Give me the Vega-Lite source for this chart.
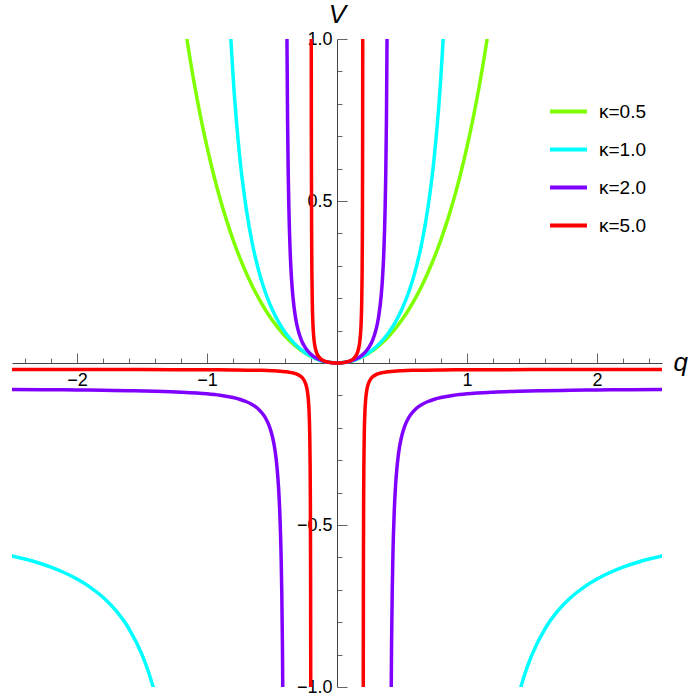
{
  "$schema": "https://vega.github.io/schema/vega-lite/v6.json",
  "width": 650,
  "height": 648,
  "autosize": "none",
  "padding": {"left": 12, "top": 39, "right": 26, "bottom": 11},
  "background": "white",
  "config": {"view": {"stroke": null}, "font": "Liberation Sans"},
  "data": {"values": [
    {"k":"κ=0.5","b":"u","q":-1.2,"V":1.125},{"k":"κ=0.5","b":"u","q":-1.15,"V":0.9879},{"k":"κ=0.5","b":"u","q":-1.1,"V":0.8674},{"k":"κ=0.5","b":"u","q":-1.05,"V":0.761},{"k":"κ=0.5","b":"u","q":-1,"V":0.6667},{"k":"κ=0.5","b":"u","q":-0.95,"V":0.5827},{"k":"κ=0.5","b":"u","q":-0.9,"V":0.5078},{"k":"κ=0.5","b":"u","q":-0.85,"V":0.4409},{"k":"κ=0.5","b":"u","q":-0.8,"V":0.381},{"k":"κ=0.5","b":"u","q":-0.75,"V":0.3273},{"k":"κ=0.5","b":"u","q":-0.7,"V":0.2792},{"k":"κ=0.5","b":"u","q":-0.65,"V":0.2362},{"k":"κ=0.5","b":"u","q":-0.6,"V":0.1978},{"k":"κ=0.5","b":"u","q":-0.55,"V":0.1636},{"k":"κ=0.5","b":"u","q":-0.5,"V":0.1333},{"k":"κ=0.5","b":"u","q":-0.45,"V":0.1066},{"k":"κ=0.5","b":"u","q":-0.4,"V":0.0833},{"k":"κ=0.5","b":"u","q":-0.35,"V":0.0632},{"k":"κ=0.5","b":"u","q":-0.3,"V":0.046},{"k":"κ=0.5","b":"u","q":-0.25,"V":0.0317},{"k":"κ=0.5","b":"u","q":-0.2,"V":0.0202},{"k":"κ=0.5","b":"u","q":-0.15,"V":0.0113},{"k":"κ=0.5","b":"u","q":-0.1,"V":0.005},{"k":"κ=0.5","b":"u","q":-0.05,"V":0.0013},{"k":"κ=0.5","b":"u","q":0,"V":0},
    {"k":"κ=0.5","b":"u","q":0.05,"V":0.0013},{"k":"κ=0.5","b":"u","q":0.1,"V":0.005},{"k":"κ=0.5","b":"u","q":0.15,"V":0.0113},{"k":"κ=0.5","b":"u","q":0.2,"V":0.0202},{"k":"κ=0.5","b":"u","q":0.25,"V":0.0317},{"k":"κ=0.5","b":"u","q":0.3,"V":0.046},{"k":"κ=0.5","b":"u","q":0.35,"V":0.0632},{"k":"κ=0.5","b":"u","q":0.4,"V":0.0833},{"k":"κ=0.5","b":"u","q":0.45,"V":0.1066},{"k":"κ=0.5","b":"u","q":0.5,"V":0.1333},{"k":"κ=0.5","b":"u","q":0.55,"V":0.1636},{"k":"κ=0.5","b":"u","q":0.6,"V":0.1978},{"k":"κ=0.5","b":"u","q":0.65,"V":0.2362},{"k":"κ=0.5","b":"u","q":0.7,"V":0.2792},{"k":"κ=0.5","b":"u","q":0.75,"V":0.3273},{"k":"κ=0.5","b":"u","q":0.8,"V":0.381},{"k":"κ=0.5","b":"u","q":0.85,"V":0.4409},{"k":"κ=0.5","b":"u","q":0.9,"V":0.5078},{"k":"κ=0.5","b":"u","q":0.95,"V":0.5827},{"k":"κ=0.5","b":"u","q":1,"V":0.6667},{"k":"κ=0.5","b":"u","q":1.05,"V":0.761},{"k":"κ=0.5","b":"u","q":1.1,"V":0.8674},{"k":"κ=0.5","b":"u","q":1.15,"V":0.9879},{"k":"κ=0.5","b":"u","q":1.2,"V":1.125},

    {"k":"κ=1.0","b":"u","q":-0.85,"V":1.3018},{"k":"κ=1.0","b":"u","q":-0.825,"V":1.0656},{"k":"κ=1.0","b":"u","q":-0.8,"V":0.8889},{"k":"κ=1.0","b":"u","q":-0.75,"V":0.6429},{"k":"κ=1.0","b":"u","q":-0.7,"V":0.4804},{"k":"κ=1.0","b":"u","q":-0.65,"V":0.3658},{"k":"κ=1.0","b":"u","q":-0.6,"V":0.2813},{"k":"κ=1.0","b":"u","q":-0.55,"V":0.2168},{"k":"κ=1.0","b":"u","q":-0.5,"V":0.1667},{"k":"κ=1.0","b":"u","q":-0.45,"V":0.127},{"k":"κ=1.0","b":"u","q":-0.4,"V":0.0952},{"k":"κ=1.0","b":"u","q":-0.35,"V":0.0698},{"k":"κ=1.0","b":"u","q":-0.3,"V":0.0495},{"k":"κ=1.0","b":"u","q":-0.25,"V":0.0333},{"k":"κ=1.0","b":"u","q":-0.2,"V":0.0208},{"k":"κ=1.0","b":"u","q":-0.15,"V":0.0115},{"k":"κ=1.0","b":"u","q":-0.1,"V":0.0051},{"k":"κ=1.0","b":"u","q":-0.05,"V":0.0013},{"k":"κ=1.0","b":"u","q":0,"V":0},
    {"k":"κ=1.0","b":"u","q":0.05,"V":0.0013},{"k":"κ=1.0","b":"u","q":0.1,"V":0.0051},{"k":"κ=1.0","b":"u","q":0.15,"V":0.0115},{"k":"κ=1.0","b":"u","q":0.2,"V":0.0208},{"k":"κ=1.0","b":"u","q":0.25,"V":0.0333},{"k":"κ=1.0","b":"u","q":0.3,"V":0.0495},{"k":"κ=1.0","b":"u","q":0.35,"V":0.0698},{"k":"κ=1.0","b":"u","q":0.4,"V":0.0952},{"k":"κ=1.0","b":"u","q":0.45,"V":0.127},{"k":"κ=1.0","b":"u","q":0.5,"V":0.1667},{"k":"κ=1.0","b":"u","q":0.55,"V":0.2168},{"k":"κ=1.0","b":"u","q":0.6,"V":0.2813},{"k":"κ=1.0","b":"u","q":0.65,"V":0.3658},{"k":"κ=1.0","b":"u","q":0.7,"V":0.4804},{"k":"κ=1.0","b":"u","q":0.75,"V":0.6429},{"k":"κ=1.0","b":"u","q":0.8,"V":0.8889},{"k":"κ=1.0","b":"u","q":0.825,"V":1.0656},{"k":"κ=1.0","b":"u","q":0.85,"V":1.3018},
    {"k":"κ=1.0","b":"l","q":-2.52,"V":-0.5935},{"k":"κ=1.0","b":"l","q":-2.5,"V":-0.5952},{"k":"κ=1.0","b":"l","q":-2.4,"V":-0.605},{"k":"κ=1.0","b":"l","q":-2.3,"V":-0.6166},{"k":"κ=1.0","b":"l","q":-2.2,"V":-0.6302},{"k":"κ=1.0","b":"l","q":-2.1,"V":-0.6466},{"k":"κ=1.0","b":"l","q":-2,"V":-0.6667},{"k":"κ=1.0","b":"l","q":-1.9,"V":-0.6916},{"k":"κ=1.0","b":"l","q":-1.8,"V":-0.7232},{"k":"κ=1.0","b":"l","q":-1.7,"V":-0.7646},{"k":"κ=1.0","b":"l","q":-1.6,"V":-0.8205},{"k":"κ=1.0","b":"l","q":-1.5,"V":-0.9},{"k":"κ=1.0","b":"l","q":-1.45,"V":-0.9535},{"k":"κ=1.0","b":"l","q":-1.4,"V":-1.0208},{"k":"κ=1.0","b":"l","q":-1.35,"V":-1.1079},
    {"k":"κ=1.0","b":"r","q":1.35,"V":-1.1079},{"k":"κ=1.0","b":"r","q":1.4,"V":-1.0208},{"k":"κ=1.0","b":"r","q":1.45,"V":-0.9535},{"k":"κ=1.0","b":"r","q":1.5,"V":-0.9},{"k":"κ=1.0","b":"r","q":1.6,"V":-0.8205},{"k":"κ=1.0","b":"r","q":1.7,"V":-0.7646},{"k":"κ=1.0","b":"r","q":1.8,"V":-0.7232},{"k":"κ=1.0","b":"r","q":1.9,"V":-0.6916},{"k":"κ=1.0","b":"r","q":2,"V":-0.6667},{"k":"κ=1.0","b":"r","q":2.1,"V":-0.6466},{"k":"κ=1.0","b":"r","q":2.2,"V":-0.6302},{"k":"κ=1.0","b":"r","q":2.3,"V":-0.6166},{"k":"κ=1.0","b":"r","q":2.4,"V":-0.605},{"k":"κ=1.0","b":"r","q":2.5,"V":-0.5952},{"k":"κ=1.0","b":"r","q":2.52,"V":-0.5935},

    {"k":"κ=2.0","b":"u","q":-0.39,"V":1.5403},{"k":"κ=2.0","b":"u","q":-0.385,"V":1.007},{"k":"κ=2.0","b":"u","q":-0.38,"V":0.7405},{"k":"κ=2.0","b":"u","q":-0.375,"V":0.5806},{"k":"κ=2.0","b":"u","q":-0.37,"V":0.4741},{"k":"κ=2.0","b":"u","q":-0.36,"V":0.3411},{"k":"κ=2.0","b":"u","q":-0.35,"V":0.2613},{"k":"κ=2.0","b":"u","q":-0.34,"V":0.2083},{"k":"κ=2.0","b":"u","q":-0.32,"V":0.1422},{"k":"κ=2.0","b":"u","q":-0.3,"V":0.1029},{"k":"κ=2.0","b":"u","q":-0.275,"V":0.0717},{"k":"κ=2.0","b":"u","q":-0.25,"V":0.0513},{"k":"κ=2.0","b":"u","q":-0.225,"V":0.037},{"k":"κ=2.0","b":"u","q":-0.2,"V":0.0267},{"k":"κ=2.0","b":"u","q":-0.175,"V":0.0189},{"k":"κ=2.0","b":"u","q":-0.15,"V":0.0131},{"k":"κ=2.0","b":"u","q":-0.125,"V":0.0087},{"k":"κ=2.0","b":"u","q":-0.1,"V":0.0053},{"k":"κ=2.0","b":"u","q":-0.075,"V":0.0029},{"k":"κ=2.0","b":"u","q":-0.05,"V":0.0013},{"k":"κ=2.0","b":"u","q":-0.025,"V":0.0003},{"k":"κ=2.0","b":"u","q":0,"V":0},
    {"k":"κ=2.0","b":"u","q":0.025,"V":0.0003},{"k":"κ=2.0","b":"u","q":0.05,"V":0.0013},{"k":"κ=2.0","b":"u","q":0.075,"V":0.0029},{"k":"κ=2.0","b":"u","q":0.1,"V":0.0053},{"k":"κ=2.0","b":"u","q":0.125,"V":0.0087},{"k":"κ=2.0","b":"u","q":0.15,"V":0.0131},{"k":"κ=2.0","b":"u","q":0.175,"V":0.0189},{"k":"κ=2.0","b":"u","q":0.2,"V":0.0267},{"k":"κ=2.0","b":"u","q":0.225,"V":0.037},{"k":"κ=2.0","b":"u","q":0.25,"V":0.0513},{"k":"κ=2.0","b":"u","q":0.275,"V":0.0717},{"k":"κ=2.0","b":"u","q":0.3,"V":0.1029},{"k":"κ=2.0","b":"u","q":0.32,"V":0.1422},{"k":"κ=2.0","b":"u","q":0.34,"V":0.2083},{"k":"κ=2.0","b":"u","q":0.35,"V":0.2613},{"k":"κ=2.0","b":"u","q":0.36,"V":0.3411},{"k":"κ=2.0","b":"u","q":0.37,"V":0.4741},{"k":"κ=2.0","b":"u","q":0.375,"V":0.5806},{"k":"κ=2.0","b":"u","q":0.38,"V":0.7405},{"k":"κ=2.0","b":"u","q":0.385,"V":1.007},{"k":"κ=2.0","b":"u","q":0.39,"V":1.5403},
    {"k":"κ=2.0","b":"l","q":-2.52,"V":-0.0821},{"k":"κ=2.0","b":"l","q":-2.5,"V":-0.0821},{"k":"κ=2.0","b":"l","q":-2.2,"V":-0.0827},{"k":"κ=2.0","b":"l","q":-2,"V":-0.0833},{"k":"κ=2.0","b":"l","q":-1.8,"V":-0.0842},{"k":"κ=2.0","b":"l","q":-1.6,"V":-0.0853},{"k":"κ=2.0","b":"l","q":-1.4,"V":-0.0871},{"k":"κ=2.0","b":"l","q":-1.2,"V":-0.09},{"k":"κ=2.0","b":"l","q":-1,"V":-0.0952},{"k":"κ=2.0","b":"l","q":-0.9,"V":-0.0997},{"k":"κ=2.0","b":"l","q":-0.8,"V":-0.1067},{"k":"κ=2.0","b":"l","q":-0.75,"V":-0.1118},{"k":"κ=2.0","b":"l","q":-0.7,"V":-0.1188},{"k":"κ=2.0","b":"l","q":-0.65,"V":-0.1288},{"k":"κ=2.0","b":"l","q":-0.625,"V":-0.1355},{"k":"κ=2.0","b":"l","q":-0.6,"V":-0.144},{"k":"κ=2.0","b":"l","q":-0.575,"V":-0.155},{"k":"κ=2.0","b":"l","q":-0.55,"V":-0.1698},{"k":"κ=2.0","b":"l","q":-0.52,"V":-0.1959},{"k":"κ=2.0","b":"l","q":-0.5,"V":-0.2222},{"k":"κ=2.0","b":"l","q":-0.49,"V":-0.2398},{"k":"κ=2.0","b":"l","q":-0.48,"V":-0.2618},{"k":"κ=2.0","b":"l","q":-0.47,"V":-0.2902},{"k":"κ=2.0","b":"l","q":-0.46,"V":-0.3281},{"k":"κ=2.0","b":"l","q":-0.45,"V":-0.3812},{"k":"κ=2.0","b":"l","q":-0.44,"V":-0.461},{"k":"κ=2.0","b":"l","q":-0.43,"V":-0.5941},{"k":"κ=2.0","b":"l","q":-0.425,"V":-0.7006},{"k":"κ=2.0","b":"l","q":-0.42,"V":-0.8605},{"k":"κ=2.0","b":"l","q":-0.415,"V":-1.127},{"k":"κ=2.0","b":"l","q":-0.41,"V":-1.6602},
    {"k":"κ=2.0","b":"r","q":0.41,"V":-1.6602},{"k":"κ=2.0","b":"r","q":0.415,"V":-1.127},{"k":"κ=2.0","b":"r","q":0.42,"V":-0.8605},{"k":"κ=2.0","b":"r","q":0.425,"V":-0.7006},{"k":"κ=2.0","b":"r","q":0.43,"V":-0.5941},{"k":"κ=2.0","b":"r","q":0.44,"V":-0.461},{"k":"κ=2.0","b":"r","q":0.45,"V":-0.3812},{"k":"κ=2.0","b":"r","q":0.46,"V":-0.3281},{"k":"κ=2.0","b":"r","q":0.47,"V":-0.2902},{"k":"κ=2.0","b":"r","q":0.48,"V":-0.2618},{"k":"κ=2.0","b":"r","q":0.49,"V":-0.2398},{"k":"κ=2.0","b":"r","q":0.5,"V":-0.2222},{"k":"κ=2.0","b":"r","q":0.52,"V":-0.1959},{"k":"κ=2.0","b":"r","q":0.55,"V":-0.1698},{"k":"κ=2.0","b":"r","q":0.575,"V":-0.155},{"k":"κ=2.0","b":"r","q":0.6,"V":-0.144},{"k":"κ=2.0","b":"r","q":0.625,"V":-0.1355},{"k":"κ=2.0","b":"r","q":0.65,"V":-0.1288},{"k":"κ=2.0","b":"r","q":0.7,"V":-0.1188},{"k":"κ=2.0","b":"r","q":0.75,"V":-0.1118},{"k":"κ=2.0","b":"r","q":0.8,"V":-0.1067},{"k":"κ=2.0","b":"r","q":0.9,"V":-0.0997},{"k":"κ=2.0","b":"r","q":1,"V":-0.0952},{"k":"κ=2.0","b":"r","q":1.2,"V":-0.09},{"k":"κ=2.0","b":"r","q":1.4,"V":-0.0871},{"k":"κ=2.0","b":"r","q":1.6,"V":-0.0853},{"k":"κ=2.0","b":"r","q":1.8,"V":-0.0842},{"k":"κ=2.0","b":"r","q":2,"V":-0.0833},{"k":"κ=2.0","b":"r","q":2.2,"V":-0.0827},{"k":"κ=2.0","b":"r","q":2.5,"V":-0.0821},{"k":"κ=2.0","b":"r","q":2.52,"V":-0.0821},

    {"k":"κ=5.0","b":"u","q":-0.199,"V":1.985},{"k":"κ=5.0","b":"u","q":-0.198,"V":0.985},{"k":"κ=5.0","b":"u","q":-0.197,"V":0.6517},{"k":"κ=5.0","b":"u","q":-0.195,"V":0.3851},{"k":"κ=5.0","b":"u","q":-0.193,"V":0.2708},{"k":"κ=5.0","b":"u","q":-0.19,"V":0.1851},{"k":"κ=5.0","b":"u","q":-0.185,"V":0.1185},{"k":"κ=5.0","b":"u","q":-0.18,"V":0.0853},{"k":"κ=5.0","b":"u","q":-0.175,"V":0.0653},{"k":"κ=5.0","b":"u","q":-0.17,"V":0.0521},{"k":"κ=5.0","b":"u","q":-0.16,"V":0.0356},{"k":"κ=5.0","b":"u","q":-0.15,"V":0.0257},{"k":"κ=5.0","b":"u","q":-0.14,"V":0.0192},{"k":"κ=5.0","b":"u","q":-0.13,"V":0.0146},{"k":"κ=5.0","b":"u","q":-0.12,"V":0.0113},{"k":"κ=5.0","b":"u","q":-0.11,"V":0.0087},{"k":"κ=5.0","b":"u","q":-0.1,"V":0.0067},{"k":"κ=5.0","b":"u","q":-0.08,"V":0.0038},{"k":"κ=5.0","b":"u","q":-0.06,"V":0.002},{"k":"κ=5.0","b":"u","q":-0.04,"V":0.0008},{"k":"κ=5.0","b":"u","q":-0.02,"V":0.0002},{"k":"κ=5.0","b":"u","q":0,"V":0},
    {"k":"κ=5.0","b":"u","q":0.02,"V":0.0002},{"k":"κ=5.0","b":"u","q":0.04,"V":0.0008},{"k":"κ=5.0","b":"u","q":0.06,"V":0.002},{"k":"κ=5.0","b":"u","q":0.08,"V":0.0038},{"k":"κ=5.0","b":"u","q":0.1,"V":0.0067},{"k":"κ=5.0","b":"u","q":0.11,"V":0.0087},{"k":"κ=5.0","b":"u","q":0.12,"V":0.0113},{"k":"κ=5.0","b":"u","q":0.13,"V":0.0146},{"k":"κ=5.0","b":"u","q":0.14,"V":0.0192},{"k":"κ=5.0","b":"u","q":0.15,"V":0.0257},{"k":"κ=5.0","b":"u","q":0.16,"V":0.0356},{"k":"κ=5.0","b":"u","q":0.17,"V":0.0521},{"k":"κ=5.0","b":"u","q":0.175,"V":0.0653},{"k":"κ=5.0","b":"u","q":0.18,"V":0.0853},{"k":"κ=5.0","b":"u","q":0.185,"V":0.1185},{"k":"κ=5.0","b":"u","q":0.19,"V":0.1851},{"k":"κ=5.0","b":"u","q":0.193,"V":0.2708},{"k":"κ=5.0","b":"u","q":0.195,"V":0.3851},{"k":"κ=5.0","b":"u","q":0.197,"V":0.6517},{"k":"κ=5.0","b":"u","q":0.198,"V":0.985},{"k":"κ=5.0","b":"u","q":0.199,"V":1.985},
    {"k":"κ=5.0","b":"l","q":-2.52,"V":-0.0201},{"k":"κ=5.0","b":"l","q":-2,"V":-0.0202},{"k":"κ=5.0","b":"l","q":-1.5,"V":-0.0204},{"k":"κ=5.0","b":"l","q":-1,"V":-0.0208},{"k":"κ=5.0","b":"l","q":-0.8,"V":-0.0213},{"k":"κ=5.0","b":"l","q":-0.6,"V":-0.0225},{"k":"κ=5.0","b":"l","q":-0.5,"V":-0.0238},{"k":"κ=5.0","b":"l","q":-0.4,"V":-0.0267},{"k":"κ=5.0","b":"l","q":-0.35,"V":-0.0297},{"k":"κ=5.0","b":"l","q":-0.3,"V":-0.036},{"k":"κ=5.0","b":"l","q":-0.28,"V":-0.0408},{"k":"κ=5.0","b":"l","q":-0.26,"V":-0.049},{"k":"κ=5.0","b":"l","q":-0.24,"V":-0.0655},{"k":"κ=5.0","b":"l","q":-0.23,"V":-0.082},{"k":"κ=5.0","b":"l","q":-0.22,"V":-0.1152},{"k":"κ=5.0","b":"l","q":-0.215,"V":-0.1485},{"k":"κ=5.0","b":"l","q":-0.21,"V":-0.2151},{"k":"κ=5.0","b":"l","q":-0.207,"V":-0.3008},{"k":"κ=5.0","b":"l","q":-0.205,"V":-0.4151},{"k":"κ=5.0","b":"l","q":-0.203,"V":-0.6817},{"k":"κ=5.0","b":"l","q":-0.202,"V":-1.015},{"k":"κ=5.0","b":"l","q":-0.201,"V":-2.015},
    {"k":"κ=5.0","b":"r","q":0.201,"V":-2.015},{"k":"κ=5.0","b":"r","q":0.202,"V":-1.015},{"k":"κ=5.0","b":"r","q":0.203,"V":-0.6817},{"k":"κ=5.0","b":"r","q":0.205,"V":-0.4151},{"k":"κ=5.0","b":"r","q":0.207,"V":-0.3008},{"k":"κ=5.0","b":"r","q":0.21,"V":-0.2151},{"k":"κ=5.0","b":"r","q":0.215,"V":-0.1485},{"k":"κ=5.0","b":"r","q":0.22,"V":-0.1152},{"k":"κ=5.0","b":"r","q":0.23,"V":-0.082},{"k":"κ=5.0","b":"r","q":0.24,"V":-0.0655},{"k":"κ=5.0","b":"r","q":0.26,"V":-0.049},{"k":"κ=5.0","b":"r","q":0.28,"V":-0.0408},{"k":"κ=5.0","b":"r","q":0.3,"V":-0.036},{"k":"κ=5.0","b":"r","q":0.35,"V":-0.0297},{"k":"κ=5.0","b":"r","q":0.4,"V":-0.0267},{"k":"κ=5.0","b":"r","q":0.5,"V":-0.0238},{"k":"κ=5.0","b":"r","q":0.6,"V":-0.0225},{"k":"κ=5.0","b":"r","q":0.8,"V":-0.0213},{"k":"κ=5.0","b":"r","q":1,"V":-0.0208},{"k":"κ=5.0","b":"r","q":1.5,"V":-0.0204},{"k":"κ=5.0","b":"r","q":2,"V":-0.0202},{"k":"κ=5.0","b":"r","q":2.52,"V":-0.0201}
  ]},
  "resolve": {"axis": {"x": "independent", "y": "independent"}},
  "layer": [
    {
      "mark": {"type": "point", "opacity": 0, "clip": true},
      "encoding": {
        "x": {"field": "q", "type": "quantitative",
          "scale": {"domain": [-2.5, 2.5], "nice": false, "zero": false},
          "axis": {"orient": "bottom", "offset": -324, "values": [-2, -1, 1, 2], "format": "d",
            "ticks": false, "domain": false, "grid": false, "labelPadding": 8, "labelFontSize": 18,
            "labelFont": "Liberation Sans", "labelColor": "#000", "labelFlush": false, "labelOverlap": false, "title": null}},
        "y": {"field": "V", "type": "quantitative",
          "scale": {"domain": [-1, 1], "nice": false, "zero": false},
          "axis": {"orient": "left", "offset": -325, "values": [-1, -0.5, 0.5, 1], "format": ".1f",
            "ticks": false, "domain": false, "grid": false, "labelPadding": 5, "labelFontSize": 18,
            "labelFont": "Liberation Sans", "labelColor": "#000", "labelFlush": false, "labelOverlap": false, "title": null}}
      }
    },
    {
      "mark": {"type": "line", "strokeWidth": 3.5, "clip": true, "interpolate": "monotone"},
      "encoding": {
        "x": {"field": "q", "type": "quantitative",
          "scale": {"domain": [-2.5, 2.5], "nice": false, "zero": false},
          "axis": {"orient": "top", "offset": -324,
            "values": [-2.4, -2.2, -2, -1.8, -1.6, -1.4, -1.2, -1, -0.8, -0.6, -0.4, -0.2, 0.2, 0.4, 0.6, 0.8, 1, 1.2, 1.4, 1.6, 1.8, 2, 2.2, 2.4],
            "labels": false, "grid": false, "domain": true, "domainColor": "#444", "domainWidth": 1,
            "ticks": true, "tickColor": "#666", "tickWidth": 1,
            "tickSize": {"condition": {"test": "datum.value === round(datum.value)", "value": 10}, "value": 5},
            "title": "q", "titleX": 661, "titleY": 7, "titleAlign": "left", "titleBaseline": "alphabetic", "titleAngle": 0,
            "titleFont": "Liberation Sans", "titleFontStyle": "italic", "titleFontWeight": "normal", "titleFontSize": 26, "titleColor": "#000"}},
        "y": {"field": "V", "type": "quantitative",
          "scale": {"domain": [-1, 1], "nice": false, "zero": false},
          "axis": {"orient": "right", "offset": -325,
            "values": [-1, -0.9, -0.8, -0.7, -0.6, -0.5, -0.4, -0.3, -0.2, -0.1, 0.1, 0.2, 0.3, 0.4, 0.5, 0.6, 0.7, 0.8, 0.9, 1],
            "labels": false, "grid": false, "domain": true, "domainColor": "#444", "domainWidth": 1,
            "ticks": true, "tickColor": "#666", "tickWidth": 1,
            "tickSize": {"condition": {"test": "abs(datum.value * 2 - round(datum.value * 2)) < 0.000001", "value": 10}, "value": 5},
            "title": "V", "titleX": 0, "titleY": -17, "titleAlign": "center", "titleBaseline": "alphabetic", "titleAngle": 0,
            "titleFont": "Liberation Sans", "titleFontStyle": "italic", "titleFontWeight": "normal", "titleFontSize": 26, "titleColor": "#000"}},
        "color": {"field": "k", "type": "nominal",
          "scale": {"domain": ["κ=0.5", "κ=1.0", "κ=2.0", "κ=5.0"], "range": ["#80ff00", "#00ffff", "#8000ff", "#ff0000"]},
          "legend": {"orient": "none", "legendX": 536, "legendY": 52, "title": null, "padding": 0,
            "symbolType": "stroke", "symbolSize": 1369, "symbolStrokeWidth": 4, "labelFontSize": 19,
            "labelFont": "Liberation Sans", "labelColor": "#000", "labelOffset": 10, "rowPadding": 7}},
        "detail": {"field": "b", "type": "nominal"}
      }
    }
  ]
}
